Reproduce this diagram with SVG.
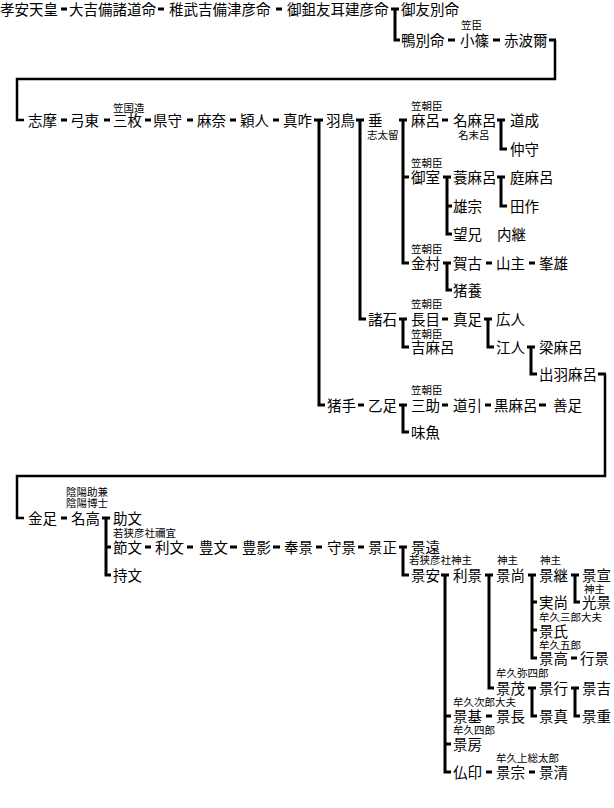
<svg xmlns="http://www.w3.org/2000/svg" width="614" height="808" viewBox="0 0 614 808">
<style>
.n{font-family:"Noto Sans CJK JP","Noto Sans CJK SC",sans-serif;font-size:14.5px;fill:#000}
.s{font-family:"Noto Sans CJK JP","Noto Sans CJK SC",sans-serif;font-size:10.5px;fill:#000}
.c{fill:none;stroke:#000;stroke-width:3}
.l{fill:none;stroke:#000;stroke-width:2.5}
</style>
<rect width="614" height="808" fill="#fff"/>
<g id="connectors">
<path class="c" d="M61,9H67M158,9H164M276,9H282M391,9H399M395,9V40H400M448,40H455M493,40H500M549,40H556"/>
<path class="l" d="M555,40V79H17V120H24"/>
<path class="c" d="M61,120H67M104,120H110M145,120H151M187,120H193M230,120H236M273,120H279M314,120H323M319,120V405H325M356,120H364M360,120V319H366M399,120H407M403,120V263H409M403,177H409M442,120H448M497,120H505M501,120V149H507"/>
<path class="c" d="M443,177H451M447,177V234H452M447,206H452M497,177H505M501,177V206H507"/>
<path class="c" d="M443,263H451M447,263V290H452M486,263H492M529,263H535"/>
<path class="c" d="M399,319H407M403,319V347H409M442,319H448M484,319H492M488,319V347H494M527,347H535M531,347V374H537"/>
<path class="c" d="M598,374H606"/>
<path class="l" d="M605,374V476H17V518H24"/>
<path class="c" d="M358,405H364M399,405H407M403,405V432H409M442,405H448M485,405H491M539,405H546"/>
<path class="c" d="M61,518H67M102,518H110M106,518V575H111M106,547H111M145,547H151M187,547H193M230,547H237M273,547H280M316,547H322M358,547H364M399,547H407M403,547V575H409"/>
<path class="c" d="M441,575H449M445,575V772H451M445,716H451M445,744H451M485,575H493M489,575V688H494M528,575H536M532,575V658H537M532,602H537M532,630H537M571,575H579M575,575V602H580M571,658H577"/>
<path class="c" d="M528,688H536M532,688V716H537M571,688H579M575,688V716H580M486,716H492M486,772H492M529,772H535"/>
</g>
<g id="n1"><text class="n" x="0" y="15">孝安天皇</text></g>
<g id="n2"><text class="n" x="69" y="15">大吉備諸道命</text></g>
<g id="n3"><text class="n" x="169" y="15">稚武吉備津彦命</text></g>
<g id="n4"><text class="n" x="287" y="15">御鉏友耳建彦命</text></g>
<g id="n5"><text class="n" x="401" y="15">御友別命</text></g>
<g id="n6"><text class="n" x="401" y="46">鴨別命</text></g>
<g id="n7"><text class="s" x="461" y="29">笠臣</text><text class="n" x="460" y="46">小篠</text></g>
<g id="n8"><text class="n" x="504" y="46">赤波爾</text></g>
<g id="n9"><text class="n" x="28" y="126">志摩</text></g>
<g id="n10"><text class="n" x="70" y="126">弓東</text></g>
<g id="n11"><text class="s" x="113" y="112">笠国造</text><text class="n" x="113" y="126">三枚</text></g>
<g id="n12"><text class="n" x="153" y="126">県守</text></g>
<g id="n13"><text class="n" x="197" y="126">麻奈</text></g>
<g id="n14"><text class="n" x="240" y="126">穎人</text></g>
<g id="n15"><text class="n" x="283" y="126">真咋</text></g>
<g id="n16"><text class="n" x="326" y="126">羽鳥</text></g>
<g id="n17"><text class="n" x="368" y="126">垂</text><text class="s" x="367" y="139">志太留</text></g>
<g id="n18"><text class="s" x="411" y="110">笠朝臣</text><text class="n" x="411" y="126">麻呂</text></g>
<g id="n19"><text class="n" x="453" y="126">名麻呂</text><text class="s" x="458" y="139">名末呂</text></g>
<g id="n20"><text class="n" x="510" y="126">道成</text></g>
<g id="n21"><text class="n" x="510" y="155">仲守</text></g>
<g id="n22"><text class="s" x="411" y="167">笠朝臣</text><text class="n" x="411" y="183">御室</text></g>
<g id="n23"><text class="n" x="453" y="183">蓑麻呂</text></g>
<g id="n24"><text class="n" x="510" y="183">庭麻呂</text></g>
<g id="n25"><text class="n" x="453" y="212">雄宗</text></g>
<g id="n26"><text class="n" x="510" y="212">田作</text></g>
<g id="n27"><text class="n" x="453" y="240">望兄</text></g>
<g id="n28"><text class="n" x="497" y="240">内継</text></g>
<g id="n29"><text class="s" x="411" y="253">笠朝臣</text><text class="n" x="411" y="269">金村</text></g>
<g id="n30"><text class="n" x="453" y="269">賀古</text></g>
<g id="n31"><text class="n" x="496" y="269">山主</text></g>
<g id="n32"><text class="n" x="539" y="269">峯雄</text></g>
<g id="n33"><text class="n" x="453" y="296">猪養</text></g>
<g id="n34"><text class="n" x="368" y="325">諸石</text></g>
<g id="n35"><text class="s" x="411" y="308">笠朝臣</text><text class="n" x="411" y="325">長目</text></g>
<g id="n36"><text class="n" x="453" y="325">真足</text></g>
<g id="n37"><text class="n" x="496" y="325">広人</text></g>
<g id="n38"><text class="s" x="411" y="338">笠朝臣</text><text class="n" x="411" y="353">吉麻呂</text></g>
<g id="n39"><text class="n" x="496" y="353">江人</text></g>
<g id="n40"><text class="n" x="539" y="353">梁麻呂</text></g>
<g id="n41"><text class="n" x="539" y="380">出羽麻呂</text></g>
<g id="n42"><text class="n" x="327" y="411">猪手</text></g>
<g id="n43"><text class="n" x="368" y="411">乙足</text></g>
<g id="n44"><text class="s" x="411" y="394">笠朝臣</text><text class="n" x="411" y="411">三助</text></g>
<g id="n45"><text class="n" x="453" y="411">道引</text></g>
<g id="n46"><text class="n" x="494" y="411">黒麻呂</text></g>
<g id="n47"><text class="n" x="553" y="411">善足</text></g>
<g id="n48"><text class="n" x="411" y="438">味魚</text></g>
<g id="n49"><text class="n" x="28" y="524">金足</text></g>
<g id="n50"><text class="s" x="66" y="496">陰陽助兼</text><text class="s" x="66" y="507">陰陽博士</text><text class="n" x="71" y="524">名高</text></g>
<g id="n51"><text class="n" x="113" y="524">助文</text></g>
<g id="n52"><text class="s" x="113" y="537">若狭彦社禰宜</text><text class="n" x="113" y="553">節文</text></g>
<g id="n53"><text class="n" x="155" y="553">利文</text></g>
<g id="n54"><text class="n" x="199" y="553">豊文</text></g>
<g id="n55"><text class="n" x="242" y="553">豊影</text></g>
<g id="n56"><text class="n" x="284" y="553">奉景</text></g>
<g id="n57"><text class="n" x="327" y="553">守景</text></g>
<g id="n58"><text class="n" x="368" y="553">景正</text></g>
<g id="n59"><text class="n" x="411" y="553">景遠</text></g>
<g id="n60"><text class="n" x="113" y="581">持文</text></g>
<g id="n61"><text class="s" x="409" y="564">若狭彦社神主</text><text class="n" x="411" y="581">景安</text></g>
<g id="n62"><text class="n" x="453" y="581">利景</text></g>
<g id="n63"><text class="s" x="497" y="564">神主</text><text class="n" x="496" y="581">景尚</text></g>
<g id="n64"><text class="s" x="540" y="564">神主</text><text class="n" x="539" y="581">景継</text></g>
<g id="n65"><text class="n" x="582" y="581">景宣</text></g>
<g id="n66"><text class="n" x="539" y="608">実尚</text></g>
<g id="n67"><text class="s" x="584" y="593">神主</text><text class="n" x="582" y="608">光景</text></g>
<g id="n68"><text class="s" x="539" y="621">牟久三郎大夫</text><text class="n" x="539" y="637">景氏</text></g>
<g id="n69"><text class="s" x="539" y="649">牟久五郎</text><text class="n" x="539" y="664">景高</text></g>
<g id="n70"><text class="n" x="580" y="664">行景</text></g>
<g id="n71"><text class="s" x="496" y="677">牟久弥四郎</text><text class="n" x="496" y="694">景茂</text></g>
<g id="n72"><text class="n" x="539" y="694">景行</text></g>
<g id="n73"><text class="n" x="582" y="694">景吉</text></g>
<g id="n74"><text class="s" x="453" y="706">牟久次郎大夫</text><text class="n" x="453" y="722">景基</text></g>
<g id="n75"><text class="n" x="496" y="722">景長</text></g>
<g id="n76"><text class="n" x="539" y="722">景真</text></g>
<g id="n77"><text class="n" x="582" y="722">景重</text></g>
<g id="n78"><text class="s" x="453" y="734">牟久四郎</text><text class="n" x="453" y="750">景房</text></g>
<g id="n79"><text class="n" x="453" y="778">仏印</text></g>
<g id="n80"><text class="s" x="496" y="762">牟久上総太郎</text><text class="n" x="496" y="778">景宗</text></g>
<g id="n81"><text class="n" x="539" y="778">景清</text></g>
</svg>
